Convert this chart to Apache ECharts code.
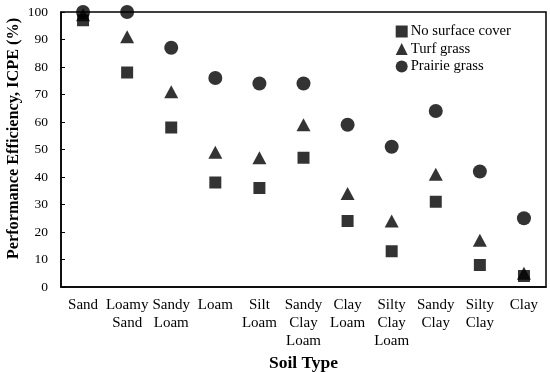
<!DOCTYPE html>
<html><head><meta charset="utf-8">
<script src="https://cdn.jsdelivr.net/npm/echarts@6/dist/echarts.min.js"></script>
<style>html,body{margin:0;padding:0;background:#fff}#c{width:550px;height:372px}</style>
</head><body><div id="c"></div>
<script>
const categories = ['Sand','Loamy\nSand','Sandy\nLoam','Loam','Silt\nLoam','Sandy\nClay\nLoam','Clay\nLoam','Silty\nClay\nLoam','Sandy\nClay','Silty\nClay','Clay'];
const noCover = [97,78,58,38,36,47,24,13,31,8,4];
const turfGrass = [99,91,71,49,47,59,34,24,41,17,5];
const prairieGrass = [100,100,87,76,74,74,59,51,64,42,25];
const yTicks = [0,10,20,30,40,50,60,70,80,90,100];

const font = 'Liberation Serif';
const chart = echarts.init(document.getElementById('c'));
chart.setOption({
  animation:false,
  textStyle:{fontFamily:font,color:'#000'},
  grid:{left:61,right:4,top:12,bottom:85,containLabel:false,outerBoundsMode:'none'},
  legend:{
    orient:'vertical', right:34, top:19, itemWidth:12, itemHeight:12, itemGap:2.5,
    textStyle:{fontFamily:font,fontSize:14.7,lineHeight:15,color:'#000',padding:[0,0,0,-2]},
    data:[{name:'No surface cover',icon:'rect'},{name:'Turf grass',icon:'triangle'},{name:'Prairie grass',icon:'circle'}]
  },
  xAxis:{
    type:'category', data:categories, boundaryGap:true,
    name:'Soil Type', nameLocation:'middle', nameGap:61,
    nameTextStyle:{fontFamily:font,fontSize:17.5,fontWeight:'bold',color:'#000'},
    axisLine:{lineStyle:{color:'#000',width:1.5}},
    axisTick:{inside:true,length:5,lineStyle:{color:'#000'}},
    axisLabel:{fontFamily:font,fontSize:15,color:'#000',lineHeight:18,margin:9,interval:0}
  },
  yAxis:{
    type:'value', min:0, max:100, interval:10,
    name:'Performance Efficiency, ICPE (%)', nameLocation:'middle', nameGap:39, nameMoveOverlap:false,
    nameTextStyle:{fontFamily:font,fontSize:16.3,fontWeight:'bold',color:'#000',padding:[0,0,0,22]},
    axisLine:{show:true,lineStyle:{color:'#000',width:1.5}},
    axisTick:{show:true,inside:true,length:4,lineStyle:{color:'#000'}},
    splitLine:{show:false},
    axisLabel:{fontFamily:font,fontSize:13.5,color:'#000',margin:13,
      formatter:v=>yTicks.includes(v)?String(v):''}
  },
  series:[
    {name:'No surface cover',type:'scatter',symbol:'rect',symbolSize:12,data:noCover,itemStyle:{color:'#000'},z:3},
    {name:'Turf grass',type:'scatter',symbol:'triangle',symbolSize:[14,13],data:turfGrass,itemStyle:{color:'#000'},z:2},
    {name:'Prairie grass',type:'scatter',symbol:'circle',symbolSize:14,data:prairieGrass,itemStyle:{color:'#000'},z:4}
  ],
  graphic:[{type:'rect',shape:{x:61,y:12,width:485,height:275},style:{fill:'none',stroke:'#000',lineWidth:1.5},silent:true,z:10}]
});
</script></body></html>
